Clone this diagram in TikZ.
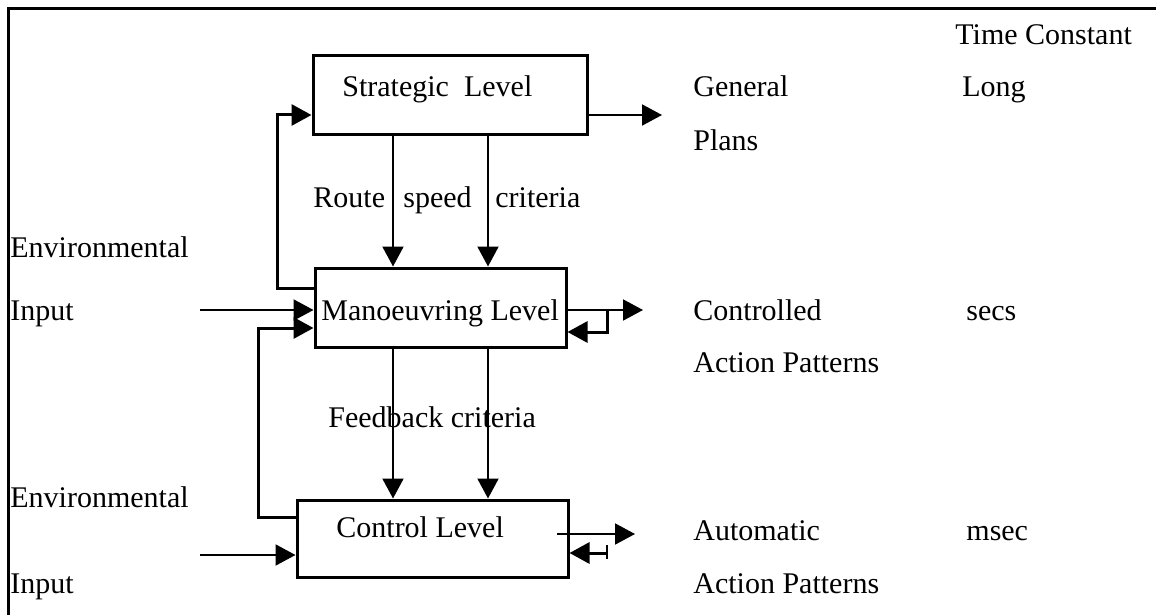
\documentclass[tikz,border=0pt]{standalone}
\usepackage{fontspec}
\setmainfont{Liberation Serif}
\usetikzlibrary{arrows.meta}
\begin{document}
\begin{tikzpicture}[x=0.5pt,y=-0.5pt,
  every node/.style={font=\fontsize{15}{18}\selectfont},
  lvlbox/.style={draw,line width=1.5pt,inner sep=0pt,fill=none},
  txt/.style={anchor=base west,inner sep=0pt},
  conn/.style={line width=1pt,-{Triangle[length=10pt,width=10.5pt]}},
  fbconn/.style={conn,line width=1.5pt},
  plain/.style={line width=1.2pt},
  frame/.style={line width=1.5pt}]
\useasboundingbox (0,0) rectangle (1156,615);
% frame
\coordinate (f1) at (8,615);
\coordinate (f2) at (8,9);
\coordinate (f3) at (1156,9);
\draw[frame] (f1) -- (f2) -- (f3);
% boxes
\node[lvlbox,minimum width=137pt,minimum height=39.5pt] (S) at (450,95.5) {};
\node[lvlbox,minimum width=125.5pt,minimum height=39.5pt] (M) at (440.5,307.5) {};
\node[lvlbox,minimum width=135.5pt,minimum height=38.5pt] (C) at (432.5,538.5) {};
% box labels
\node[txt] (St) at (342,97) {Strategic\ \ Level};
\node[txt] (Mt) at (321,320) {Manoeuvring Level};
\node[txt] (Ct) at (336,537) {Control Level};
% other labels
\node[txt] (tc) at (955,45) {Time Constant};
\node[txt] (gen) at (693,97) {General};
\node[txt] (plans) at (693,150) {Plans};
\node[txt] (long) at (962,97) {Long};
\node[txt] (route) at (313,207) {Route};
\node[txt] (speed) at (403,207) {speed};
\node[txt] (crit1) at (495,207) {criteria};
\node[txt] (env1) at (10,257) {Environmental};
\node[txt] (inp1) at (10,320) {Input};
\node[txt] (ctl) at (693,320) {Controlled};
\node[txt] (ap1) at (693,372) {Action Patterns};
\node[txt] (secs) at (966,320) {secs};
\node[txt] (fb) at (328,427) {Feedback criteria};
\node[txt] (env2) at (10,507) {Environmental};
\node[txt] (inp2) at (10,593) {Input};
\node[txt] (aut) at (693,540) {Automatic};
\node[txt] (ap2) at (693,593) {Action Patterns};
\node[txt] (msec) at (966,540) {msec};
% free ends
\coordinate (sout) at (662,115);
\coordinate (e1) at (200,310);
\coordinate (e2) at (200,555);
\coordinate (mout) at (643,310);
\coordinate (cout) at (635,534);
\coordinate (cs) at (557,534);
\coordinate (ct1) at (607,545);
\coordinate (ct2) at (607,559);
% connectors
\draw[conn] (S.east |- 0,115) -- (sout);
\draw[fbconn] (M.west |- 0,288) -- (277,288) -- (277,115) -- (S.west |- 0,115);
\draw[conn] (S.south -| 393,0) -- (M.north -| 393,0);
\draw[conn] (S.south -| 488,0) -- (M.north -| 488,0);
\draw[conn] (e1) -- (M.west |- e1);
\draw[fbconn] (C.west |- 0,517) -- (258,517) -- (258,328) -- (M.west |- 0,328);
\draw[conn] (M.east |- mout) -- (mout);
\draw[fbconn] (607,310) -- (607,332) -- (M.east |- 0,332);
\draw[conn] (M.south -| 393,0) -- (C.north -| 393,0);
\draw[conn] (M.south -| 488,0) -- (C.north -| 488,0);
\draw[conn] (e2) -- (C.west |- e2);
\draw[conn] (cs) -- (cout);
\draw[plain] (ct1) -- (ct2);
\draw[fbconn] (607,553) -- (C.east |- 0,553);
\end{tikzpicture}
\end{document}
